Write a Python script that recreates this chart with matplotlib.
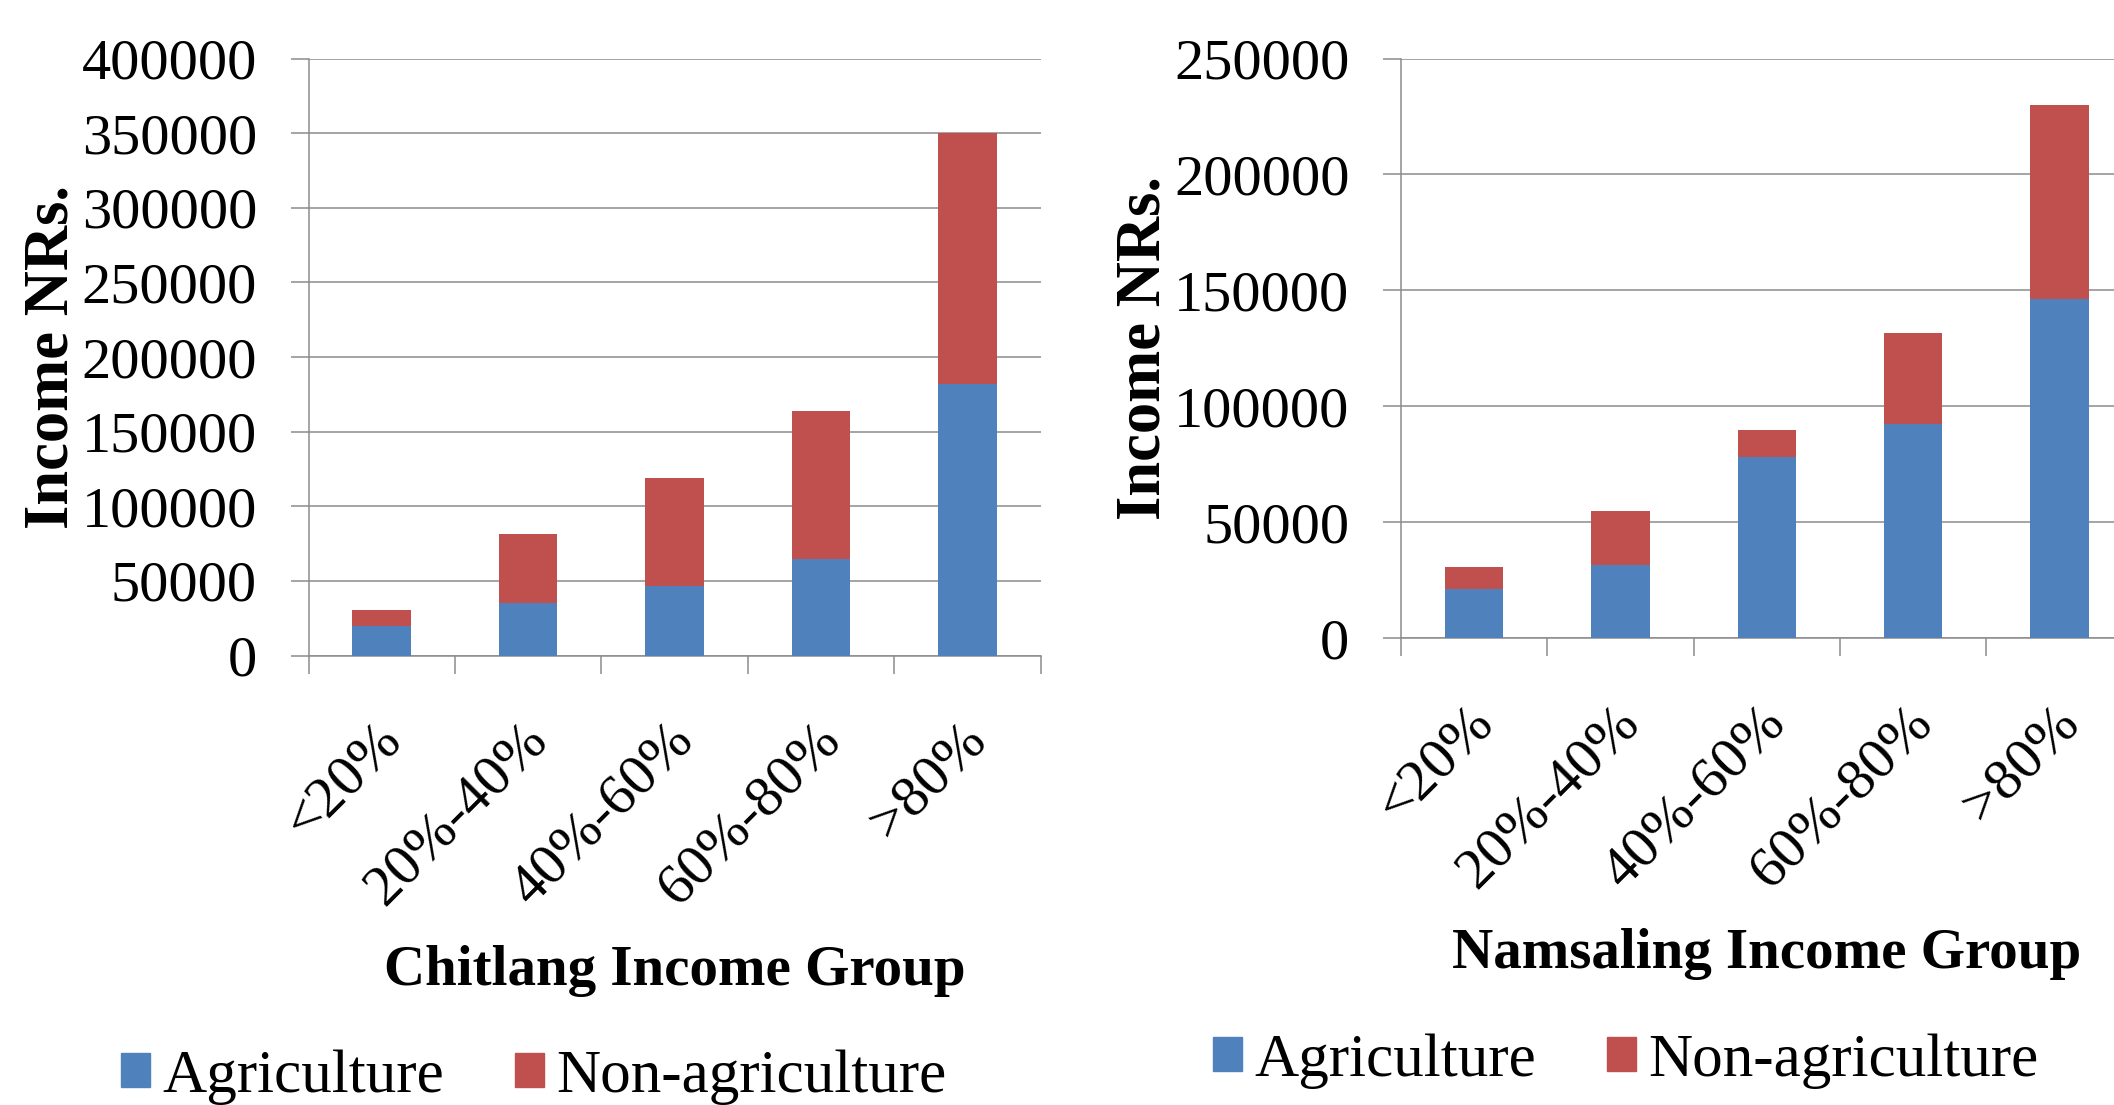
import matplotlib
matplotlib.use("Agg")
import matplotlib.pyplot as plt
from matplotlib.patches import Patch
from matplotlib.transforms import ScaledTranslation

plt.rcParams['font.family'] = ['Liberation Serif', 'DejaVu Serif']

### data
groups = ["<20%", "20%-40%", "40%-60%", "60%-80%", ">80%"]

chitlang_agri    = [20000, 35000, 46500, 64500, 182000]
chitlang_nonagri = [10500, 46500, 72500, 99000, 168000]

namsaling_agri    = [21500, 31800, 78000, 92500, 146500]
namsaling_nonagri = [9100, 23000, 12000, 39000, 83500]

### style
BLUE = "#4F81BD"
RED  = "#C0504D"
GRID = "#8C8C8C"
W, H = 2114, 1105

fig = plt.figure(figsize=(W / 100, H / 100), dpi=100)
ax1 = fig.add_axes([308.5 / W, 1 - 655.5 / H, 732 / W, (655.5 - 58.5) / H])
ax2 = fig.add_axes([1400.8 / W, 1 - 638.4 / H, 732 / W, (638.4 - 58.5) / H])


def stacked(ax, agri, nonagri, ymax, step, xlabel, xlab_y):
    x = list(range(len(groups)))
    ax.bar(x, agri, width=0.4, color=BLUE, zorder=3)
    ax.bar(x, nonagri, width=0.4, bottom=agri, color=RED, zorder=3)

    ax.set_xlim(-0.5, len(groups) - 0.5)
    ax.set_ylim(0, ymax)
    ax.set_yticks(list(range(0, ymax + 1, step)))

    # category borders get the tick marks, centres get the labels
    ax.set_xticks([i - 0.5 for i in range(len(groups) + 1)])
    ax.set_xticklabels([])
    ax.set_xticks(x, minor=True)
    ax.set_xticklabels(groups, minor=True, rotation=45, ha="right", va="center",
                       rotation_mode="anchor", fontsize=42)
    ax.tick_params(axis="x", which="minor", length=0, pad=55)
    ax.tick_params(axis="both", which="major", length=13, width=1.1,
                   color=GRID, direction="out")
    ax.tick_params(axis="y", labelsize=42, pad=24)
    shift = ScaledTranslation(0.11, 0, fig.dpi_scale_trans)
    for lbl in ax.get_xticklabels(minor=True):
        lbl.set_transform(lbl.get_transform() + shift)

    ax.yaxis.grid(True, color=GRID, lw=1.1, zorder=0)
    ax.set_axisbelow(True)
    for s in ["top", "right"]:
        ax.spines[s].set_visible(False)
    for s in ["left", "bottom"]:
        ax.spines[s].set_color(GRID)
        ax.spines[s].set_linewidth(1.1)

    ax.set_ylabel("Income NRs.", fontsize=45, fontweight="bold")
    ax.yaxis.set_label_coords(-0.31, 0.5)
    ax.set_xlabel(xlabel, fontsize=41, fontweight="bold", va="baseline")
    ax.xaxis.set_label_coords(0.5, xlab_y)


stacked(ax1, chitlang_agri, chitlang_nonagri, 400000, 50000,
        "Chitlang Income Group", -0.552)
stacked(ax2, namsaling_agri, namsaling_nonagri, 250000, 50000,
        "Namsaling Income Group", -0.568)


def legend_at(x, y):
    handles = [Patch(color=BLUE, label="Agriculture"),
               Patch(color=RED, label="Non-agriculture")]
    fig.legend(handles=handles, loc="center left", bbox_to_anchor=(x / W, 1 - y / H),
               ncol=2, frameon=False, fontsize=44, handlelength=0.48,
               handleheight=0.48, handletextpad=0.2, columnspacing=1.15,
               borderpad=0, borderaxespad=0)


legend_at(121, 1077)
legend_at(1213, 1061)

plt.savefig("out.png", dpi=100)
